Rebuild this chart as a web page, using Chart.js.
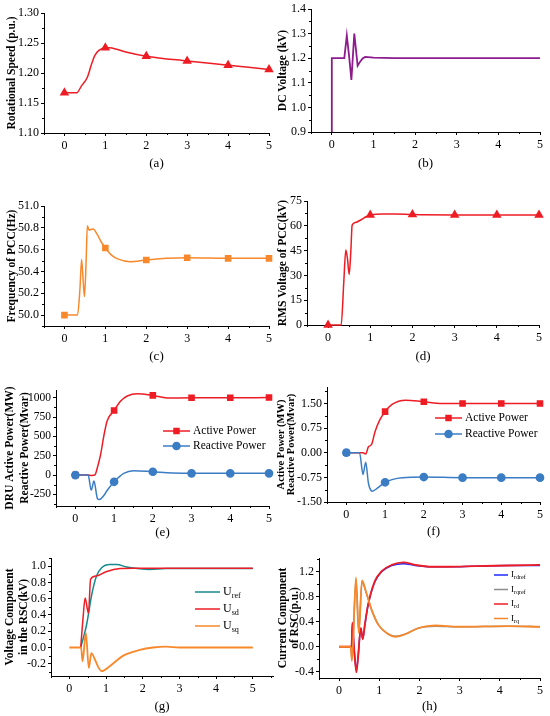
<!DOCTYPE html>
<html>
<head>
<meta charset="utf-8">
<script src="https://cdn.jsdelivr.net/npm/chart.js@4.4.1/dist/chart.umd.min.js"></script>
<style>
  body { margin: 0; background: #fff; width: 550px; height: 716px; position: relative; overflow: hidden; }
  .panel { position: absolute; }
</style>
</head>
<body>
<div class="panel" id="pa"><canvas></canvas></div>
<div class="panel" id="pb"><canvas></canvas></div>
<div class="panel" id="pc"><canvas></canvas></div>
<div class="panel" id="pd"><canvas></canvas></div>
<div class="panel" id="pe"><canvas></canvas></div>
<div class="panel" id="pf"><canvas></canvas></div>
<div class="panel" id="pg"><canvas></canvas></div>
<div class="panel" id="ph"><canvas></canvas></div>
<script>
// ---- data (time in s) ----
const timeTicks = [0, 1, 2, 3, 4, 5];

// (a) rotational speed
const speedT = [0, 0.3, 0.42, 0.56, 0.65, 0.74, 0.85, 1.0, 1.1, 1.3, 1.5, 2, 3, 4, 5];
const speedV = [1.167, 1.167, 1.179, 1.193, 1.212, 1.229, 1.238, 1.242, 1.242, 1.239, 1.235, 1.228, 1.220, 1.213, 1.206];
const speedTicks = [1.10, 1.15, 1.20, 1.25, 1.30];

// (b) DC voltage
const dcT = [0, 0, 0.30, 0.36, 0.42, 0.47, 0.54, 0.62, 0.68, 0.74, 0.80, 1.0, 1.5, 2, 3, 4, 5];
const dcV = [0.9, 1.2, 1.2, 1.292, 1.20, 1.112, 1.30, 1.169, 1.186, 1.199, 1.205, 1.202, 1.2, 1.2, 1.2, 1.2, 1.2];
const dcTicks = [0.9, 1.0, 1.1, 1.2, 1.3, 1.4];

// (c) frequency of PCC
const freqT = [0, 0.32, 0.38, 0.42, 0.46, 0.49, 0.53, 0.56, 0.60, 0.70, 0.80, 0.90, 1.0, 1.15, 1.3, 1.6, 2, 2.5, 3, 4, 5];
const freqV = [50.0, 50.0, 50.25, 50.51, 50.3, 50.17, 50.5, 50.82, 50.78, 50.79, 50.74, 50.67, 50.615, 50.55, 50.515, 50.49, 50.505, 50.52, 50.525, 50.52, 50.52];
const freqTicks = [50.0, 50.2, 50.4, 50.6, 50.8, 51.0];

// (d) RMS voltage of PCC
const rmsT = [0, 0.31, 0.37, 0.42, 0.46, 0.50, 0.54, 0.57, 0.65, 0.79, 0.9, 1.0, 1.3, 1.6, 2, 3, 4, 5];
const rmsV = [0, 0, 25, 45.3, 40, 30.6, 45, 60.4, 62, 63.8, 65.5, 66.5, 67.2, 67.2, 66.8, 66.6, 66.6, 66.6];
const rmsTicks = [0, 15, 30, 45, 60, 75];

// (e) DRU active / reactive power
const druPT = [0, 0.33, 0.42, 0.5, 0.58, 0.65, 0.74, 0.82, 1.0, 1.17, 1.34, 1.6, 2, 2.37, 3, 4, 5];
const druP = [0, 0, -5, 0, 117, 260, 520, 700, 835, 957, 1022, 1052, 1030, 996, 1000, 1000, 1002];
const druQT = [0, 0.33, 0.41, 0.48, 0.57, 0.62, 0.74, 0.82, 1.0, 1.25, 1.5, 2, 2.5, 3, 4, 5];
const druQ = [0, 0, -196, -78, -304, -317, -261, -200, -87, 22, 57, 43, 28, 22, 22, 22];
const druTicks = [-250, 0, 250, 500, 750, 1000];

// (f) active / reactive power
const pwrPT = [0, 0.43, 0.5, 0.57, 0.65, 0.74, 0.86, 1.0, 1.18, 1.53, 2, 2.47, 3, 4, 5];
const pwrP = [0, 0, -0.04, 0.18, 0.25, 0.64, 0.99, 1.25, 1.47, 1.60, 1.55, 1.50, 1.50, 1.50, 1.50];
const pwrQT = [0, 0.34, 0.43, 0.5, 0.57, 0.67, 0.8, 1.0, 1.44, 2, 3, 4, 5];
const pwrQ = [0, 0, -0.66, -0.29, -0.93, -1.17, -1.08, -0.90, -0.76, -0.74, -0.76, -0.76, -0.76];
const pwrTicks = [-1.50, -0.75, 0.00, 0.75, 1.50];

// (g) voltage components in the RSC
const urefT = [0.31, 0.47, 0.61, 0.74, 0.88, 1.1, 1.29, 1.56, 1.92, 2.19, 2.64, 3, 4, 5];
const uref = [0, 0.28, 0.65, 0.88, 0.98, 1.02, 1.02, 0.99, 0.967, 0.96, 0.97, 0.97, 0.97, 0.97];
const usdT = [0.31, 0.38, 0.43, 0.52, 0.58, 0.74, 1.0, 1.38, 1.74, 2.5, 3, 4, 5];
const usd = [0, 0.40, 0.61, 0.42, 0.84, 0.88, 0.93, 0.97, 0.975, 0.975, 0.975, 0.975, 0.975];
const usqT = [0, 0.32, 0.36, 0.45, 0.53, 0.60, 0.70, 0.80, 0.88, 1.1, 1.47, 1.92, 2.28, 2.64, 3, 4, 5];
const usq = [0, 0, -0.17, 0.18, -0.25, -0.07, -0.15, -0.25, -0.29, -0.23, -0.10, -0.03, 0.0, 0.01, 0.0, 0.0, 0.0];
const voltTicks = [-0.2, 0.0, 0.2, 0.4, 0.6, 0.8, 1.0];

// (h) current components of RSC
const irdT = [0, 0.31, 0.33, 0.37, 0.43, 0.47, 0.54, 0.59, 0.64, 0.72, 0.89, 1.06, 1.31, 1.6, 1.89, 2.31, 2.72, 3.39, 4.22, 5];
const ird = [0, 0, 0.39, 0.0, -0.41, -0.19, 0.30, 0.12, 0.35, 0.67, 1.05, 1.21, 1.31, 1.35, 1.31, 1.28, 1.28, 1.29, 1.30, 1.31];
const irdref = [0, 0, 0.36, 0.0, -0.37, -0.18, 0.29, 0.13, 0.34, 0.66, 1.04, 1.2, 1.3, 1.33, 1.3, 1.28, 1.28, 1.29, 1.3, 1.3];
const irqT = [0, 0.29, 0.32, 0.42, 0.49, 0.57, 0.68, 0.81, 0.98, 1.23, 1.39, 1.64, 1.98, 2.39, 2.98, 4.22, 5];
const irq = [0, 0, -0.23, 1.11, 0.22, 1.06, 0.86, 0.59, 0.35, 0.20, 0.16, 0.20, 0.30, 0.34, 0.32, 0.33, 0.32];
const irqref = [0, 0, -0.2, 1.08, 0.24, 1.04, 0.85, 0.59, 0.35, 0.2, 0.17, 0.2, 0.3, 0.33, 0.32, 0.33, 0.32];
const currTicks = [-0.4, 0.0, 0.4, 0.8, 1.2];

// ---- helpers ----
const FONT = '"Liberation Serif", "Times New Roman", serif';
const RED = '#ee1c24', BLUE = '#3b7dc4', ORANGE = '#f7892c';

const pts = (T, V) => T.map((t, i) => ({ x: t, y: V[i] }));
const atWholeSecond = r => ctx => (ctx.raw && Number.isInteger(ctx.raw.x) ? r : 0);

function series(T, V, color, extra) {
  return Object.assign({
    data: pts(T, V),
    borderColor: color,
    backgroundColor: color,
    pointBackgroundColor: color,
    pointBorderColor: color,
    borderWidth: 1.5,
    pointRadius: 0,
    fill: false
  }, extra || {});
}

function mids(sc) {
  const v = sc.ticks.map(t => t.value), out = [];
  for (let i = 0; i < v.length - 1; i++) out.push((v[i] + v[i + 1]) / 2);
  if (v.length > 1) {
    const h = (v[1] - v[0]) / 2;
    if (v[0] - h >= sc.min - 1e-9) out.push(v[0] - h);
    if (v[v.length - 1] + h <= sc.max + 1e-9) out.push(v[v.length - 1] + h);
  }
  return out;
}

// small ticks between the labelled ones
const minorTicks = {
  id: 'minorTicks',
  afterDraw(chart) {
    const { ctx, chartArea: a } = chart;
    const xs = chart.scales.x, ys = chart.scales.y;
    ctx.save();
    ctx.strokeStyle = '#000';
    ctx.lineWidth = 1;
    ctx.beginPath();
    mids(xs).forEach(v => {
      const p = Math.round(xs.getPixelForValue(v)) + 0.5;
      ctx.moveTo(p, a.bottom); ctx.lineTo(p, a.bottom + 2);
    });
    mids(ys).forEach(v => {
      const p = Math.round(ys.getPixelForValue(v)) + 0.5;
      ctx.moveTo(a.left, p); ctx.lineTo(a.left - 2, p);
    });
    ctx.stroke();
    ctx.restore();
  }
};

// legend with line + marker and subscript labels
const keyLegend = {
  id: 'keyLegend',
  afterDraw(chart, args, o) {
    if (!o || !o.items) return;
    const ctx = chart.ctx;
    ctx.save();
    o.items.forEach((it, i) => {
      const ds = chart.data.datasets[it.ds];
      const y = o.y + i * o.gap;
      const x1 = o.x + o.len;
      ctx.strokeStyle = ds.borderColor;
      ctx.fillStyle = ds.borderColor;
      ctx.lineWidth = 1.5;
      ctx.beginPath(); ctx.moveTo(o.x, y); ctx.lineTo(x1, y); ctx.stroke();
      if (ds.pointStyle) {
        Chart.helpers.drawPoint(ctx, { pointStyle: ds.pointStyle, radius: o.marker || 3.5, borderWidth: 1, rotation: 0 }, (o.x + x1) / 2, y);
      }
      ctx.fillStyle = '#000';
      ctx.textBaseline = 'middle';
      ctx.textAlign = 'left';
      ctx.font = o.size + 'px ' + FONT;
      ctx.fillText(it.main, x1 + o.pad, y);
      if (it.sub) {
        const w = ctx.measureText(it.main).width;
        ctx.font = (o.size * 0.68) + 'px ' + FONT;
        ctx.fillText(it.sub, x1 + o.pad + w, y + o.size * 0.32);
      }
    });
    ctx.restore();
  }
};

Chart.register(minorTicks, keyLegend);

function zeroPad(sc) {
  sc.paddingTop = 0; sc.paddingBottom = 0; sc.paddingLeft = 0; sc.paddingRight = 0;
}

function makeChart(id, s) {
  const wrap = document.getElementById(id);
  Object.assign(wrap.style, { left: s.box.x + 'px', top: s.box.y + 'px', width: s.box.w + 'px', height: s.box.h + 'px' });
  const boxBottom = s.box.y + s.box.h;
  const titleSize = s.titleSize || 11.5;
  const titleLH = s.titleLH || 14;
  const capSize = 13, capLH = capSize * 1.2;

  new Chart(wrap.querySelector('canvas'), {
    type: 'line',
    data: { datasets: s.datasets },
    options: {
      responsive: true,
      maintainAspectRatio: false,
      animation: false,
      events: [],
      layout: { padding: { left: 0, top: s.area.T - s.box.y, right: s.box.x + s.box.w - s.area.R, bottom: 0 } },
      datasets: { line: { clip: false, cubicInterpolationMode: s.linear ? 'default' : 'monotone', tension: 0 } },
      plugins: {
        legend: { display: false },
        tooltip: { enabled: false },
        keyLegend: s.legend || {}
      },
      scales: {
        x: {
          type: 'linear',
          min: s.xMin, max: s.xMax,
          afterBuildTicks: sc => { sc.ticks = timeTicks.map(v => ({ value: v })); },
          afterFit: sc => { sc.height = boxBottom - s.area.B; zeroPad(sc); },
          grid: { display: true, drawOnChartArea: false, drawTicks: true, tickLength: 3, color: '#000', lineWidth: 1 },
          border: { display: true, color: '#000', width: 1 },
          ticks: { color: '#000', padding: 3, maxRotation: 0, autoSkip: false, font: { family: FONT, size: 12 }, callback: v => String(v) },
          title: {
            display: true, text: s.caption, color: '#000',
            font: { family: FONT, size: capSize, lineHeight: 1.2 },
            padding: { top: 0, bottom: boxBottom - s.capY - capLH / 2 }
          }
        },
        y: {
          type: 'linear',
          min: s.yMin, max: s.yMax,
          afterBuildTicks: sc => { sc.ticks = s.yTicks.map(v => ({ value: v })); },
          afterFit: sc => { sc.width = s.area.L - s.box.x; zeroPad(sc); },
          grid: { display: true, drawOnChartArea: false, drawTicks: true, tickLength: 3, color: '#000', lineWidth: 1 },
          border: { display: true, color: '#000', width: 1 },
          ticks: { color: '#000', padding: 2, autoSkip: false, font: { family: FONT, size: s.tickSize || 12 }, callback: v => Number(v).toFixed(s.dec) },
          title: {
            display: true, text: s.title, color: '#000',
            font: { family: FONT, size: titleSize, weight: 'bold', lineHeight: titleLH / titleSize },
            padding: { top: s.titleX - s.box.x - titleLH / 2, bottom: 0 }
          }
        }
      }
    }
  });
}

// ---- panels ----
makeChart('pa', {
  box: { x: 0, y: 0, w: 275, h: 176 }, area: { L: 44, T: 13, R: 269, B: 133 }, capY: 164, titleX: 12,
  xMin: -0.5, xMax: 5, yMin: 1.10, yMax: 1.30, yTicks: speedTicks, dec: 2,
  title: 'Rotational Speed (p.u.)', caption: '(a)',
  datasets: [series(speedT, speedV, RED, { pointStyle: 'triangle', pointRadius: atWholeSecond(4) })]
});

makeChart('pb', {
  box: { x: 275, y: 0, w: 275, h: 176 }, area: { L: 311, T: 9, R: 540, B: 132 }, capY: 164, titleX: 283,
  xMin: -0.5, xMax: 5, yMin: 0.9, yMax: 1.4, yTicks: dcTicks, dec: 1, linear: true,
  title: 'DC Voltage (kV)', caption: '(b)',
  datasets: [series(dcT, dcV, '#8e1b8e', { borderWidth: 1.8 })]
});

makeChart('pc', {
  box: { x: 0, y: 176, w: 275, h: 190 }, area: { L: 44, T: 206, R: 269, B: 326 }, capY: 357, titleX: 12,
  xMin: -0.5, xMax: 5, yMin: 49.9, yMax: 51.0, yTicks: freqTicks, dec: 1,
  title: 'Frequency of PCC(Hz)', caption: '(c)',
  datasets: [series(freqT, freqV, ORANGE, { pointStyle: 'rect', pointRadius: atWholeSecond(3.6) })]
});

makeChart('pd', {
  box: { x: 275, y: 176, w: 275, h: 190 }, area: { L: 307, T: 201, R: 539, B: 325 }, capY: 357, titleX: 283,
  xMin: -0.5, xMax: 5, yMin: 0, yMax: 75, yTicks: rmsTicks, dec: 0,
  title: 'RMS Voltage of PCC(kV)', caption: '(d)',
  datasets: [series(rmsT, rmsV, RED, { pointStyle: 'triangle', pointRadius: atWholeSecond(4) })]
});

// reactive power listed first so its markers sit on top
makeChart('pe', {
  box: { x: 0, y: 366, w: 275, h: 175 }, area: { L: 56, T: 390, R: 269, B: 506 }, capY: 533, titleX: 10, titleLH: 15,
  xMin: -0.5, xMax: 5, yMin: -400, yMax: 1100, yTicks: druTicks, dec: 0, tickSize: 11.5,
  title: ['DRU Active Power(MW)', 'Reactive Power(Mvar)'], caption: '(e)',
  datasets: [
    series(druQT, druQ, BLUE, { pointStyle: 'circle', pointRadius: atWholeSecond(3.6) }),
    series(druPT, druP, RED, { pointStyle: 'rect', pointRadius: atWholeSecond(3.6) })
  ],
  legend: { x: 163, y: 431 - 366, gap: 15, len: 27, pad: 3, size: 11.5, marker: 3.5,
            items: [{ ds: 1, main: 'Active Power' }, { ds: 0, main: 'Reactive Power' }] }
});

makeChart('pf', {
  box: { x: 275, y: 366, w: 275, h: 175 }, area: { L: 327, T: 387, R: 540, B: 502 }, capY: 532, titleX: 281, titleLH: 10.5, titleSize: 10.5,
  xMin: -0.5, xMax: 5, yMin: -1.5, yMax: 2.0, yTicks: pwrTicks, dec: 2,
  title: ['Active Power (MW)', 'Reactive Power(Mvar)'], caption: '(f)',
  datasets: [
    series(pwrQT, pwrQ, BLUE, { pointStyle: 'circle', pointRadius: atWholeSecond(3.6) }),
    series(pwrPT, pwrP, RED, { pointStyle: 'rect', pointRadius: atWholeSecond(3.6) })
  ],
  legend: { x: 435 - 275, y: 418 - 366, gap: 16, len: 27, pad: 3, size: 11.5, marker: 3.5,
            items: [{ ds: 1, main: 'Active Power' }, { ds: 0, main: 'Reactive Power' }] }
});

makeChart('pg', {
  box: { x: 0, y: 541, w: 275, h: 175 }, area: { L: 51, T: 558, R: 273, B: 676 }, capY: 707, titleX: 10, titleLH: 14,
  xMin: -0.5, xMax: 5.55, yMin: -0.35, yMax: 1.1, yTicks: voltTicks, dec: 1,
  title: ['Voltage Component', 'in the RSC(kV)'], caption: '(g)',
  datasets: [
    series(usqT, usq, ORANGE, { borderWidth: 1.8 }),
    series(usdT, usd, RED),
    series(urefT, uref, '#16898e')
  ],
  legend: { x: 195, y: 592 - 541, gap: 17, len: 25, pad: 3, size: 12,
            items: [{ ds: 2, main: 'U', sub: 'ref' }, { ds: 1, main: 'U', sub: 'sd' }, { ds: 0, main: 'U', sub: 'sq' }] }
});

makeChart('ph', {
  box: { x: 275, y: 541, w: 275, h: 175 }, area: { L: 319, T: 558, R: 540, B: 678 }, capY: 707, titleX: 283, titleLH: 12.5,
  xMin: -0.5, xMax: 5, yMin: -0.5, yMax: 1.42, yTicks: currTicks, dec: 1,
  title: ['Current Component', 'of RSC(p.u.)'], caption: '(h)',
  datasets: [
    series(irqT, irq, ORANGE, { borderWidth: 1.8 }),
    series(irdT, ird, RED, { borderWidth: 1.8 }),
    series(irqT, irqref, '#8c8c8c'),
    series(irdT, irdref, '#1f2bff')
  ],
  legend: { x: 494 - 275, y: 575 - 541, gap: 14.5, len: 14, pad: 3, size: 9,
            items: [{ ds: 3, main: 'I', sub: 'rdref' }, { ds: 2, main: 'I', sub: 'rqref' }, { ds: 1, main: 'I', sub: 'rd' }, { ds: 0, main: 'I', sub: 'rq' }] }
});
</script>
</body>
</html>
